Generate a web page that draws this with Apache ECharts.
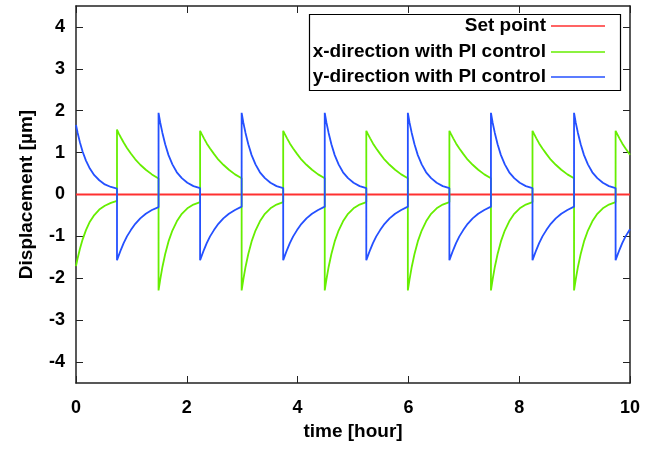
<!DOCTYPE html>
<html>
<head>
<meta charset="utf-8">
<script src="https://cdn.jsdelivr.net/npm/echarts@6/dist/echarts.min.js"></script>
<style>
html,body{margin:0;padding:0;background:#fff;}
#chart{width:647px;height:450px;}
</style>
</head>
<body>
<div id="chart"></div>
<script>
// time [hour] sample points (duplicated at each switching instant)
var time = [
  0, 0.03, 0.07, 0.12, 0.18, 0.25, 0.33, 0.42, 0.52, 0.63, 0.74,
  0.74, 0.77, 0.81, 0.86, 0.92, 0.99, 1.07, 1.16, 1.26, 1.37, 1.49,
  1.49, 1.52, 1.56, 1.61, 1.67, 1.74, 1.82, 1.91, 2.01, 2.12, 2.24,
  2.24, 2.27, 2.31, 2.36, 2.42, 2.49, 2.57, 2.66, 2.76, 2.87, 2.99,
  2.99, 3.02, 3.06, 3.11, 3.17, 3.24, 3.32, 3.41, 3.51, 3.62, 3.74,
  3.74, 3.77, 3.81, 3.86, 3.92, 3.99, 4.07, 4.16, 4.26, 4.37, 4.49,
  4.49, 4.52, 4.56, 4.61, 4.67, 4.74, 4.82, 4.91, 5.01, 5.12, 5.24,
  5.24, 5.27, 5.31, 5.36, 5.42, 5.49, 5.57, 5.66, 5.76, 5.87, 5.99,
  5.99, 6.02, 6.06, 6.11, 6.17, 6.24, 6.32, 6.41, 6.51, 6.62, 6.74,
  6.74, 6.77, 6.81, 6.86, 6.92, 6.99, 7.07, 7.16, 7.26, 7.37, 7.49,
  7.49, 7.52, 7.56, 7.61, 7.67, 7.74, 7.82, 7.91, 8.01, 8.12, 8.24,
  8.24, 8.27, 8.31, 8.36, 8.42, 8.49, 8.57, 8.66, 8.76, 8.87, 8.99,
  8.99, 9.02, 9.06, 9.11, 9.17, 9.24, 9.32, 9.41, 9.51, 9.62, 9.74,
  9.74, 9.77, 9.81, 9.86, 9.92, 10.0
];
// x-direction displacement [um]
var xDir = [
  -1.71, -1.52, -1.30, -1.07, -0.85, -0.65, -0.49, -0.36, -0.27, -0.20, -0.15,
  1.55, 1.46, 1.36, 1.24, 1.11, 0.98, 0.84, 0.71, 0.59, 0.48, 0.38,
  -2.29, -2.03, -1.73, -1.42, -1.12, -0.86, -0.64, -0.46, -0.33, -0.24, -0.18,
  1.52, 1.44, 1.34, 1.22, 1.10, 0.97, 0.83, 0.71, 0.59, 0.48, 0.39,
  -2.29, -2.03, -1.73, -1.42, -1.12, -0.86, -0.64, -0.46, -0.33, -0.24, -0.18,
  1.52, 1.44, 1.34, 1.22, 1.10, 0.97, 0.83, 0.71, 0.59, 0.48, 0.39,
  -2.29, -2.03, -1.73, -1.42, -1.12, -0.86, -0.64, -0.46, -0.33, -0.24, -0.18,
  1.52, 1.44, 1.34, 1.22, 1.10, 0.97, 0.83, 0.71, 0.59, 0.48, 0.39,
  -2.29, -2.03, -1.73, -1.42, -1.12, -0.86, -0.64, -0.46, -0.33, -0.24, -0.18,
  1.52, 1.44, 1.34, 1.22, 1.10, 0.97, 0.83, 0.71, 0.59, 0.48, 0.39,
  -2.29, -2.03, -1.73, -1.42, -1.12, -0.86, -0.64, -0.46, -0.33, -0.24, -0.18,
  1.52, 1.44, 1.34, 1.22, 1.10, 0.97, 0.83, 0.71, 0.59, 0.48, 0.39,
  -2.29, -2.03, -1.73, -1.42, -1.12, -0.86, -0.64, -0.46, -0.33, -0.24, -0.18,
  1.52, 1.44, 1.34, 1.22, 1.10, 0.95
];
// y-direction displacement [um]
var yDir = [
  1.66, 1.47, 1.25, 1.02, 0.81, 0.62, 0.46, 0.34, 0.24, 0.18, 0.14,
  -1.57, -1.46, -1.32, -1.16, -1.00, -0.85, -0.70, -0.57, -0.46, -0.37, -0.30,
  1.95, 1.72, 1.47, 1.20, 0.94, 0.72, 0.53, 0.39, 0.28, 0.20, 0.15,
  -1.57, -1.46, -1.32, -1.16, -1.00, -0.85, -0.70, -0.57, -0.46, -0.37, -0.29,
  1.95, 1.72, 1.47, 1.20, 0.94, 0.72, 0.53, 0.39, 0.28, 0.20, 0.15,
  -1.57, -1.46, -1.32, -1.16, -1.00, -0.85, -0.70, -0.57, -0.46, -0.37, -0.29,
  1.95, 1.72, 1.47, 1.20, 0.94, 0.72, 0.53, 0.39, 0.28, 0.20, 0.15,
  -1.57, -1.46, -1.32, -1.16, -1.00, -0.85, -0.70, -0.57, -0.46, -0.37, -0.29,
  1.95, 1.72, 1.47, 1.20, 0.94, 0.72, 0.53, 0.39, 0.28, 0.20, 0.15,
  -1.57, -1.46, -1.32, -1.16, -1.00, -0.85, -0.70, -0.57, -0.46, -0.37, -0.29,
  1.95, 1.72, 1.47, 1.20, 0.94, 0.72, 0.53, 0.39, 0.28, 0.20, 0.15,
  -1.57, -1.46, -1.32, -1.16, -1.00, -0.85, -0.70, -0.57, -0.46, -0.37, -0.29,
  1.95, 1.72, 1.47, 1.20, 0.94, 0.72, 0.53, 0.39, 0.28, 0.20, 0.15,
  -1.57, -1.46, -1.32, -1.16, -1.00, -0.83
];
// set point
var setTime = [0, 10];
var setValue = [0, 0];

var yTicks = [-4, -3, -2, -1, 0, 1, 2, 3, 4];
var xTicks = [0, 2, 4, 6, 8, 10];
var seriesNames = ['Set point', 'x-direction with PI control', 'y-direction with PI control'];
var colors = ['#ff3030', '#66ee00', '#2450ff'];

function zip(a, b) { return a.map(function (v, i) { return [v, b[i]]; }); }

var FONT = 'Liberation Sans, Arial, sans-serif';
var axisLineStyle = { color: '#222', width: 1.5 };

var chart = echarts.init(document.getElementById('chart'), null, { renderer: 'canvas' });

var legendBase = {
  orient: 'horizontal', align: 'right', right: 42, padding: 0,
  icon: 'rect', itemWidth: 54, itemHeight: 1.6, itemGap: 0,
  textStyle: { fontFamily: FONT, fontWeight: 'bold', fontSize: 19, color: '#000', lineHeight: 20 }
};
function mkLegend(name, top) {
  var l = JSON.parse(JSON.stringify(legendBase));
  l.data = [name]; l.top = top;
  return l;
}

var option = {
  backgroundColor: '#fff',
  animation: false,
  grid: { left: 76, right: 17, top: 6, bottom: 67, containLabel: false },
  legend: [mkLegend(seriesNames[0], 16), mkLegend(seriesNames[1], 42), mkLegend(seriesNames[2], 67)],
  graphic: [{
    type: 'rect', left: 307, top: 12, z: 100,
    shape: { width: 311, height: 76 },
    style: { fill: 'none', stroke: '#000', lineWidth: 1.2 }
  }],
  xAxis: [{
    type: 'value', min: 0, max: 10, interval: 2,
    name: 'time [hour]', nameLocation: 'middle', nameGap: 38,
    nameTextStyle: { fontFamily: FONT, fontWeight: 'bold', fontSize: 19, color: '#000' },
    axisLine: { show: true, onZero: false, lineStyle: axisLineStyle },
    axisTick: { show: true, inside: true, length: 7, lineStyle: { color: '#222', width: 1 } },
    axisLabel: { margin: 16, fontFamily: FONT, fontWeight: 'bold', fontSize: 18, color: '#000',
      customValues: xTicks },
    splitLine: { show: false }
  }, {
    type: 'value', min: 0, max: 10, interval: 2, position: 'top',
    axisLine: { show: true, onZero: false, lineStyle: axisLineStyle },
    axisTick: { show: true, inside: true, length: 7, lineStyle: { color: '#222', width: 1 } },
    axisLabel: { show: false }, splitLine: { show: false }
  }],
  yAxis: [{
    type: 'value', min: -4.5, max: 4.5,
    name: 'Displacement [\u00b5m]', nameLocation: 'middle', nameGap: 40,
    nameTextStyle: { fontFamily: FONT, fontWeight: 'bold', fontSize: 19, color: '#000' },
    axisLine: { show: true, onZero: false, lineStyle: axisLineStyle },
    axisTick: { show: true, inside: true, length: 7, customValues: yTicks, lineStyle: { color: '#222', width: 1 } },
    axisLabel: { margin: 11, fontFamily: FONT, fontWeight: 'bold', fontSize: 18, color: '#000',
      customValues: yTicks },
    splitLine: { show: false }
  }, {
    type: 'value', min: -4.5, max: 4.5, position: 'right',
    axisLine: { show: true, onZero: false, lineStyle: axisLineStyle },
    axisTick: { show: true, inside: true, length: 7, customValues: yTicks, lineStyle: { color: '#222', width: 1 } },
    axisLabel: { show: false }, splitLine: { show: false }
  }],
  series: [{
    name: seriesNames[0], type: 'line', data: zip(setTime, setValue),
    symbol: 'none', lineStyle: { color: colors[0], width: 1.8 }, itemStyle: { color: colors[0] }
  }, {
    name: seriesNames[1], type: 'line', data: zip(time, xDir),
    symbol: 'none', lineStyle: { color: colors[1], width: 1.8 }, itemStyle: { color: colors[1] }
  }, {
    name: seriesNames[2], type: 'line', data: zip(time, yDir),
    symbol: 'none', lineStyle: { color: colors[2], width: 1.8 }, itemStyle: { color: colors[2] }
  }]
};
chart.setOption(option);
</script>
</body>
</html>
